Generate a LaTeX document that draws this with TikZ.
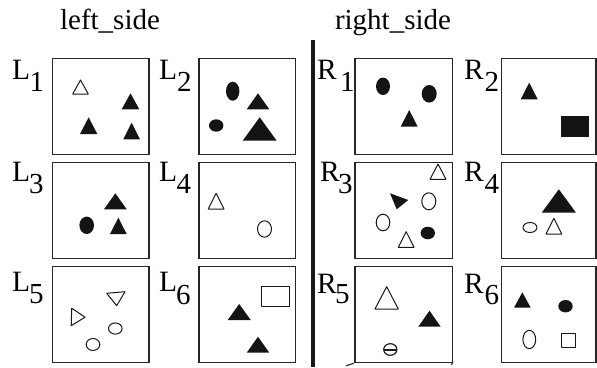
\documentclass[tikz,border=0pt]{standalone}
\usepackage{fontspec}
\setmainfont{Liberation Serif}
\newcommand\TriF[4]{\fill[shp] (#1,#4) -- (#2,#4) -- ({(#1+#2)/2},#3) -- cycle;}
\newcommand\TriO[4]{\draw[opn] (#1,#4) -- (#2,#4) -- ({(#1+#2)/2},#3) -- cycle;}
\begin{document}
\begin{tikzpicture}[x=1pt,y=-1pt,
  panel/.style={draw=black!85,line width=1.3pt},
  shp/.style={fill=black!92},
  opn/.style={draw=black!90,line width=1pt,line join=round},
  letr/.style={anchor=base west,inner sep=0pt,font=\fontsize{29.5}{30}\selectfont},
  digit/.style={anchor=base west,inner sep=0pt,font=\fontsize{29}{30}\selectfont},
  ttl/.style={anchor=base,inner sep=0pt,font=\fontsize{29}{29}\selectfont}]
\useasboundingbox[fill=white] (0,0) rectangle (597,367);
% titles
\node[ttl] (tl) at (110,29) {left\_side};
\node[ttl] (tr) at (393,29) {right\_side};
% separator
\coordinate (sepA) at (313,40);
\coordinate (sepB) at (313,367);
\draw[line width=4pt,black!90] (sepA) -- (sepB);
% panels
\draw[panel] (52.5,58.5) rectangle (149,154.7);
\draw[panel] (199,58.5) rectangle (295.5,154.7);
\draw[panel] (52.5,162.3) rectangle (149,258.5);
\draw[panel] (199,162.3) rectangle (295.5,258.5);
\draw[panel] (52.5,266.7) rectangle (149,362.7);
\draw[panel] (199,266.7) rectangle (295.5,362.7);
\draw[panel] (355,58.5) rectangle (452.3,154.7);
\draw[panel] (501.7,58.5) rectangle (596,154.7);
\draw[panel] (355,162.3) rectangle (452.3,258.5);
\draw[panel] (501.7,162.3) rectangle (596,258.5);
\draw[panel] (355,266.7) rectangle (452.3,362.7);
\draw[panel] (501.7,266.7) rectangle (596,362.7);
% labels
\node[letr] (l1L) at (12,79.3) {L};     \node[digit] (l1d) at (29.5,91.7) {1};
\node[letr] (l2L) at (159,79.3) {L};    \node[digit] (l2d) at (177,91.7) {2};
\node[letr] (l3L) at (12,181.7) {L};    \node[digit] (l3d) at (29,193) {3};
\node[letr] (l4L) at (159,181.7) {L};   \node[digit] (l4d) at (176.5,193) {4};
\node[letr] (l5L) at (12,291.7) {L};    \node[digit] (l5d) at (29,303.3) {5};
\node[letr] (l6L) at (159,291.7) {L};   \node[digit] (l6d) at (176,304) {6};
\node[letr] (r1L) at (317,79.3) {R};    \node[digit] (r1d) at (340,91.7) {1};
\node[letr] (r2L) at (464,79.3) {R};    \node[digit] (r2d) at (484.5,91.7) {2};
\node[letr] (r3L) at (320,181.7) {R};   \node[digit] (r3d) at (338,193) {3};
\node[letr] (r4L) at (464,181.7) {R};   \node[digit] (r4d) at (484.5,193) {4};
\node[letr] (r5L) at (317,293) {R};     \node[digit] (r5d) at (335,303) {5};
\node[letr] (r6L) at (464,293) {R};     \node[digit] (r6d) at (484.5,304) {6};
% L1
\TriO{72.7}{88.3}{80}{94}
\TriF{121.7}{139.3}{93.3}{109.3}
\TriF{80}{97.3}{117.3}{134}
\TriF{123.3}{140}{122.7}{139.3}
% L2
\fill[shp] (232.7,91.2) ellipse [x radius=6.7pt,y radius=9.5pt];
\TriF{246.7}{269.3}{93.3}{109.3}
\fill[shp] (216.2,125.5) ellipse [x radius=7.2pt,y radius=6.2pt];
\TriF{242.7}{276.7}{117.3}{140.7}
% R1
\fill[shp] (383,86.3) ellipse [x radius=7pt,y radius=8.7pt];
\fill[shp] (429.2,93.8) ellipse [x radius=7.5pt,y radius=8.8pt];
\TriF{400.7}{417.7}{110}{126.7}
% R2
\TriF{520.7}{537.7}{82.7}{99.3}
\fill[shp] (561,116) rectangle (589.3,137.3);
% L3
\TriF{104}{126.7}{193.3}{209.3}
\fill[shp] (86.7,225.3) ellipse [x radius=7.3pt,y radius=8.7pt];
\TriF{110}{126.7}{217.7}{234}
% L4
\TriO{208.3}{224}{193.3}{209}
\draw[opn] (264.5,229) ellipse [x radius=7pt,y radius=8.2pt];
% R3
\TriO{430}{446}{164}{179.3}
\fill[shp] (390,193.3) -- (408.3,200) -- (396.7,209.3) -- cycle;
\draw[opn] (428.8,201.3) ellipse [x radius=7pt,y radius=8.5pt];
\draw[opn] (383,222.5) ellipse [x radius=6.8pt,y radius=8.3pt];
\TriO{398.3}{414}{231.7}{247.3}
\fill[shp] (427.8,233) ellipse [x radius=7.2pt,y radius=6.3pt];
% R4
\TriF{541.7}{576}{189.3}{212.7}
\draw[opn] (530,227.5) ellipse [x radius=7pt,y radius=5pt];
\TriO{546}{561.7}{218.3}{234}
% L5
\draw[opn] (106.7,293.3) -- (125,291.7) -- (116.7,305.7) -- cycle;
\draw[opn] (71.7,308.2) -- (71.2,325.7) -- (85,317.2) -- cycle;
\draw[opn] (115.3,328.5) ellipse [x radius=6.8pt,y radius=5.6pt];
\draw[opn] (93,344.5) ellipse [x radius=6.8pt,y radius=6pt];
% L6
\draw[opn] (261.7,286) rectangle (289.3,306.7);
\TriF{227.7}{250.7}{304}{320}
\TriF{246.7}{269.3}{336.7}{352.7}
% R5
\TriO{375}{398.3}{286.7}{309}
\TriF{418.3}{440.7}{310.7}{326.7}
\draw[opn,line width=1.2pt] (390.3,349.5) ellipse [x radius=6.6pt,y radius=5.8pt];
\draw[line width=2pt,black!90] (383.8,349.5) -- (396.8,349.5);
\coordinate (ta) at (346,365.8); \coordinate (tb) at (354,363.3);
\draw[line width=1.2pt,black!80] (ta) -- (tb);
\coordinate (tc) at (451.5,365); \coordinate (td) at (453,361.5);
\draw[line width=1.2pt,black!80] (tc) -- (td);
% R6
\TriF{514}{530.7}{292.3}{307.7}
\fill[shp] (565.5,306.2) ellipse [x radius=7.2pt,y radius=6.2pt];
\draw[opn] (529.3,339.5) ellipse [x radius=6.4pt,y radius=9.2pt];
\draw[opn] (561.5,333.8) rectangle (575,347.3);
\end{tikzpicture}
\end{document}
